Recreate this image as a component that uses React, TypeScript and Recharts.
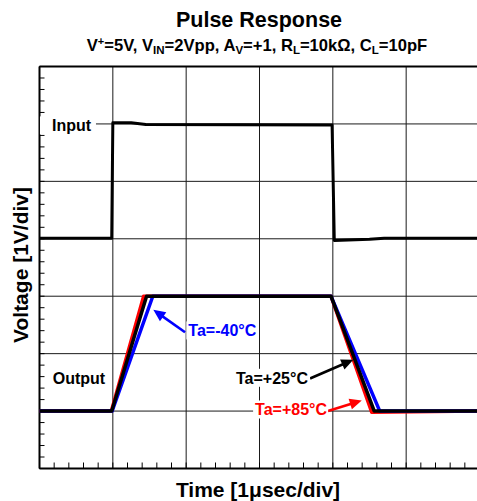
import React from 'react';
import { LineChart, Line, XAxis, YAxis, ReferenceLine, ReferenceDot } from 'recharts';

// ---- axis ticks (divisions) ----
const majorXTicks = [0, 1, 2, 3, 4, 5, 6];
const majorYTicks = [0, 1, 2, 3, 4, 5, 6, 7];
const minorXTicks = Array.from({ length: 31 }, (_, i) => +(i * 0.2).toFixed(1));
const minorYTicks = Array.from({ length: 36 }, (_, i) => +(i * 0.2).toFixed(1));

// ---- series (time in µs-divisions, voltage in V-divisions) ----
const inputTime = [0, 0.985, 1.0, 1.25, 1.45, 3.99, 4.02, 4.5, 4.7, 6.0];
const inputVolt = [4.01, 4.01, 6.02, 6.02, 5.99, 5.98, 3.97, 3.99, 4.01, 4.01];

const out85Time = [0, 0.98, 1.42, 3.975, 4.53, 6.0];
const out85Volt = [1.0, 1.0, 3.0, 3.0, 0.98, 1.0];

const outM40Time = [0, 0.99, 1.545, 3.975, 4.64, 6.0];
const outM40Volt = [1.0, 1.0, 3.0, 3.0, 1.0, 1.0];

const out25Time = [0, 0.985, 1.46, 3.975, 4.565, 6.0];
const out25Volt = [1.0, 1.0, 3.0, 3.0, 1.0, 1.0];

const toPoints = (ts: number[], vs: number[]) => ts.map((t, i) => ({ t, v: vs[i] }));
const inputData = toPoints(inputTime, inputVolt);
const out85Data = toPoints(out85Time, out85Volt);
const outM40Data = toPoints(outM40Time, outM40Volt);
const out25Data = toPoints(out25Time, out25Volt);

// ---- annotations (data coordinates) ----
const labelTexts = ['Input', 'Output', 'Ta=-40°C', 'Ta=+25°C', 'Ta=+85°C'];
const labelX = [0.17, 0.18, 2.03, 2.68, 2.94];
const labelY = [5.87, 1.475, 2.3, 1.475, 0.923];
const labelColors = ['#000000', '#000000', '#0000ff', '#000000', '#ff0000'];
const labelBoxLeft = [-12, 0, -2, -2, -2];
const labelBoxWidth = [56, 0, 72, 76, 75];

const arrowFrom = [
  { x: 1.985, y: 2.373 },
  { x: 3.689, y: 1.567 },
  { x: 3.934, y: 1.001 },
];
const arrowTo = [
  { x: 1.552, y: 2.763 },
  { x: 4.279, y: 1.893 },
  { x: 4.394, y: 1.184 },
];
const arrowColors = ['#0000ff', '#000000', '#ff0000'];

const FONT = '"Liberation Sans", Arial, Helvetica, sans-serif';

const isNum = (v: any) => typeof v === 'number' && !isNaN(v);

const makeArrow = (color: string) => (props: any) => {
  const { x1, y1, x2, y2 } = props;
  if (![x1, y1, x2, y2].every(isNum)) return <g />;
  const dx = x2 - x1;
  const dy = y2 - y1;
  const len = Math.sqrt(dx * dx + dy * dy) || 1;
  const ux = dx / len;
  const uy = dy / len;
  const headLen = 12;
  const headHalf = 5.5;
  const bx = x2 - ux * headLen;
  const by = y2 - uy * headLen;
  const px = -uy;
  const py = ux;
  const pts = `${x2},${y2} ${bx + px * headHalf},${by + py * headHalf} ${bx - px * headHalf},${by - py * headHalf}`;
  return (
    <g>
      <line x1={x1} y1={y1} x2={bx + ux * 2} y2={by + uy * 2} stroke={color} strokeWidth={2.6} />
      <polygon points={pts} fill={color} />
    </g>
  );
};

// short inward tick at the bottom of a vertical reference line
const bottomTick = (props: any) => {
  const { x1, y1, y2 } = props;
  if (![x1, y1, y2].every(isNum)) return <g />;
  const yb = Math.max(y1, y2);
  return <line x1={x1} x2={x1} y1={yb} y2={yb - 6} stroke="#000" strokeWidth={1} />;
};
// short inward tick at the left of a horizontal reference line
const leftTick = (props: any) => {
  const { x1, x2, y1 } = props;
  if (![x1, x2, y1].every(isNum)) return <g />;
  const xl = Math.min(x1, x2);
  return <line x1={xl} x2={xl + 5} y1={y1} y2={y1} stroke="#000" strokeWidth={1} />;
};

const makeLabel = (i: number) => (props: any) => {
  const { cx, cy } = props;
  if (!isNum(cx) || !isNum(cy)) return <g />;
  return (
    <g>
      {labelBoxWidth[i] > 0 && (
        <rect x={cx + labelBoxLeft[i]} y={cy - 15} width={labelBoxWidth[i]} height={18} fill="#ffffff" />
      )}
      <text x={cx} y={cy} fill={labelColors[i]} fontFamily={FONT} fontWeight="bold" fontSize={16}>
        {labelTexts[i]}
      </text>
    </g>
  );
};

export default function App() {
  return (
    <div
      style={{
        position: 'fixed',
        left: 8,
        top: 8,
        width: 469,
        height: 493,
        overflow: 'hidden',
        background: '#fff',
      }}
    >
      <LineChart width={476} height={493} margin={{ top: 58.5, right: 4.5, bottom: 32.5, left: 31.5 }}>
        <XAxis
          xAxisId="major"
          type="number"
          dataKey="t"
          domain={[0, 6]}
          ticks={majorXTicks}
          allowDataOverflow
          hide
        />
        <YAxis
          yAxisId="major"
          type="number"
          domain={[0, 7]}
          ticks={majorYTicks}
          allowDataOverflow
          hide
        />

        {/* major grid */}
        {majorXTicks.map((t) => (
          <ReferenceLine key={'gx' + t} xAxisId="major" yAxisId="major" x={t} stroke="#1a1a1a" strokeWidth={1} />
        ))}
        {majorYTicks.map((t) => (
          <ReferenceLine key={'gy' + t} xAxisId="major" yAxisId="major" y={t} stroke="#1a1a1a" strokeWidth={1} />
        ))}

        {/* minor ticks */}
        {minorXTicks.map((t) => (
          <ReferenceLine key={'mx' + t} xAxisId="major" yAxisId="major" x={t} stroke="#000" shape={bottomTick} />
        ))}
        {minorYTicks.map((t) => (
          <ReferenceLine key={'my' + t} xAxisId="major" yAxisId="major" y={t} stroke="#000" shape={leftTick} />
        ))}

        {/* frame */}
        <ReferenceLine xAxisId="major" yAxisId="major" x={0} stroke="#000" strokeWidth={2} />
        <ReferenceLine xAxisId="major" yAxisId="major" y={0} stroke="#000" strokeWidth={2} />
        <ReferenceLine xAxisId="major" yAxisId="major" y={7} stroke="#000" strokeWidth={2} />

        {labelTexts.map((t, i) => (
          <ReferenceDot
            key={t}
            xAxisId="major"
            yAxisId="major"
            x={labelX[i]}
            y={labelY[i]}
            r={0}
            shape={makeLabel(i)}
          />
        ))}

        <Line xAxisId="major" yAxisId="major" data={out85Data} dataKey="v" type="linear" stroke="#ff0000" strokeWidth={3.5} dot={false} isAnimationActive={false} strokeLinejoin="round" />
        <Line xAxisId="major" yAxisId="major" data={outM40Data} dataKey="v" type="linear" stroke="#0000ff" strokeWidth={3.5} dot={false} isAnimationActive={false} strokeLinejoin="round" />
        <Line xAxisId="major" yAxisId="major" data={out25Data} dataKey="v" type="linear" stroke="#000000" strokeWidth={3.5} dot={false} isAnimationActive={false} strokeLinejoin="round" />
        <Line xAxisId="major" yAxisId="major" data={inputData} dataKey="v" type="linear" stroke="#000000" strokeWidth={3} dot={false} isAnimationActive={false} strokeLinejoin="round" />

        {arrowFrom.map((p, i) => (
          <ReferenceLine
            key={'arrow' + i}
            xAxisId="major"
            yAxisId="major"
            segment={[p, arrowTo[i]]}
            stroke={arrowColors[i]}
            shape={makeArrow(arrowColors[i])}
          />
        ))}
      </LineChart>

      <svg
        width={469}
        height={493}
        style={{ position: 'absolute', left: 0, top: 0, pointerEvents: 'none' }}
      >
        <text x={251} y={18.5} textAnchor="middle" fontFamily={FONT} fontWeight="bold" fontSize={21.5} fill="#000">
          Pulse Response
        </text>
        <text x={249} y={42.5} textAnchor="middle" fontFamily={FONT} fontWeight="bold" fontSize={16.6} fill="#000">
          V<tspan dy={-5.5} fontSize={11}>+</tspan>
          <tspan dy={5.5}>=5V, V</tspan>
          <tspan dy={3} fontSize={11.5}>IN</tspan>
          <tspan dy={-3}>=2Vpp, A</tspan>
          <tspan dy={3} fontSize={11.5}>V</tspan>
          <tspan dy={-3}>=+1, R</tspan>
          <tspan dy={3} fontSize={11.5}>L</tspan>
          <tspan dy={-3}>=10kΩ, C</tspan>
          <tspan dy={3} fontSize={11.5}>L</tspan>
          <tspan dy={-3}>=10pF</tspan>
        </text>
        <text x={250} y={489} textAnchor="middle" fontFamily={FONT} fontWeight="bold" fontSize={21} fill="#000">
          Time [1μsec/div]
        </text>
        <text
          x={0}
          y={0}
          transform="translate(20.3,257) rotate(-90)"
          textAnchor="middle"
          fontFamily={FONT}
          fontWeight="bold"
          fontSize={21}
          fill="#000"
        >
          Voltage [1V/div]
        </text>
      </svg>
    </div>
  );
}
